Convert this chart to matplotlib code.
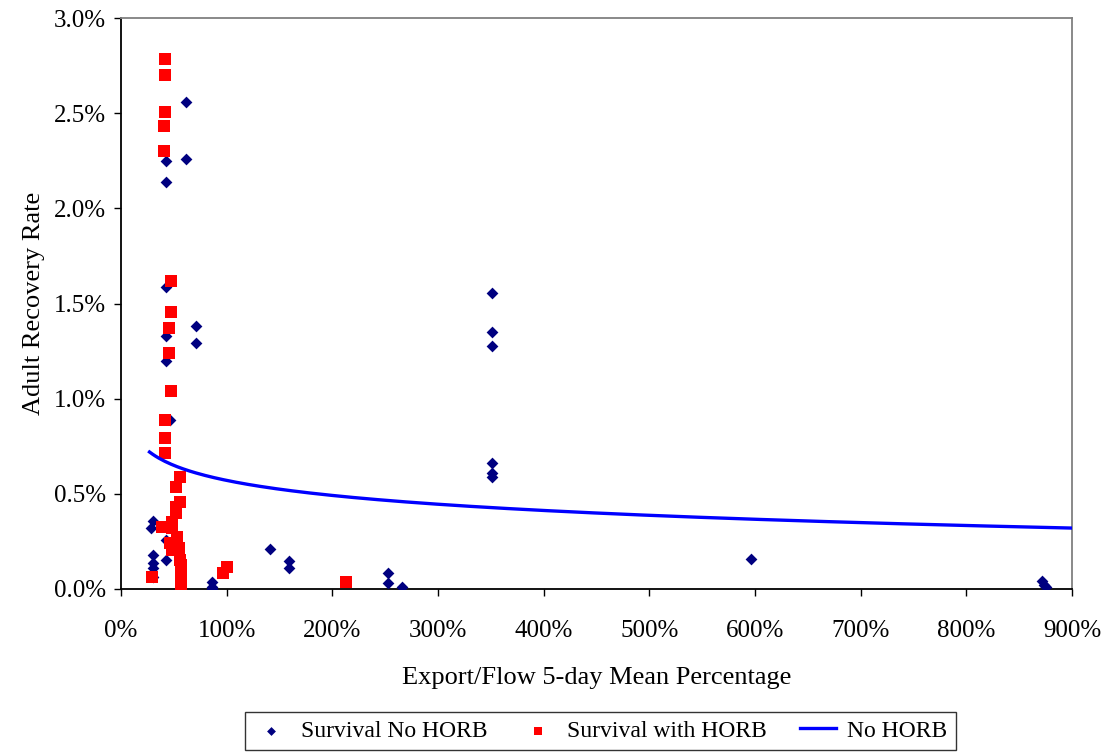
import numpy as np
import matplotlib
matplotlib.use("Agg")
import matplotlib.pyplot as plt
from matplotlib.ticker import PercentFormatter

# export/flow ratio (fraction) and adult recovery rate (fraction)
no_horb_x = [0.615, 0.426, 0.615, 0.426, 0.426, 0.426, 0.707, 0.707, 0.426, 0.46,
             0.30, 0.281, 0.423, 0.30, 0.423, 0.30, 0.30, 0.306,
             0.864, 0.864, 0.864, 1.41, 1.59, 1.59, 2.523, 2.523, 2.66,
             3.507, 3.507, 3.507, 3.507, 3.507, 3.507, 5.96, 8.72, 8.74, 8.75]
no_horb_y = [0.0256, 0.0225, 0.0226, 0.0214, 0.01587, 0.01331, 0.0138, 0.01291, 0.01197, 0.00887,
             0.00359, 0.00319, 0.00257, 0.00179, 0.00152, 0.00135, 0.00109, 0.00065,
             0.00038, 0.00012, 0.00002, 0.0021, 0.00149, 0.00109, 0.00082, 0.0003, 0.00009,
             0.01554, 0.01352, 0.01279, 0.00664, 0.00611, 0.0059, 0.00158, 0.0004, 0.0002, 0.0001]

horb_x = [0.416, 0.416, 0.416, 0.41, 0.41, 0.473, 0.473, 0.454, 0.454, 0.473,
          0.416, 0.416, 0.416, 0.558, 0.52, 0.558, 0.52, 0.52, 0.385, 0.48, 0.48,
          0.527, 0.464, 0.552, 0.48, 0.558, 0.568, 0.568, 0.296, 0.568, 0.568,
          0.968, 1.006, 2.129]
horb_y = [0.02785, 0.0270, 0.02507, 0.02433, 0.0230, 0.01618, 0.01456, 0.01373, 0.01242, 0.01042,
          0.00887, 0.00792, 0.00713, 0.0059, 0.00538, 0.00459, 0.00429, 0.00398, 0.00324, 0.00354, 0.00319,
          0.00272, 0.0024, 0.00214, 0.00205, 0.00152, 0.00126, 0.00091, 0.00061, 0.00047, 0.00005,
          0.00086, 0.00117, 0.00038]

# logarithmic trendline for No HORB: y = c0 + c1 * ln(x)
trend_c0 = 0.005705
trend_c1 = -0.00114
trend_start = 0.27
trend_end = 9.0

fig = plt.figure(figsize=(11.12, 7.52), dpi=100)
ax = fig.add_axes([0.1088, 0.2168, 0.8552, 0.7592])

plt.rcParams['font.family'] = ['Liberation Serif', 'DejaVu Serif']
font = 'Liberation Serif'

tx = np.linspace(trend_start, trend_end, 300)
ty = trend_c0 + trend_c1 * np.log(tx)

ax.scatter(no_horb_x, no_horb_y, marker='D', s=36, color='#000080',
           label='Survival No HORB', zorder=3, linewidths=0)
ax.scatter(horb_x, horb_y, marker='s', s=64, color='#ff0000',
           label='Survival with HORB', zorder=4, linewidths=0)
ax.plot(tx, ty, color='#0000ff', lw=2.4, label='No HORB', zorder=5)

ax.set_xlim(0, 9.0)
ax.set_ylim(0, 0.03)
ax.set_xticks(np.arange(0, 9.01, 1.0))
ax.set_yticks(np.arange(0, 0.0301, 0.005))
ax.xaxis.set_major_formatter(PercentFormatter(1.0, decimals=0))
ax.yaxis.set_major_formatter(PercentFormatter(1.0, decimals=1))

for lab in ax.get_xticklabels() + ax.get_yticklabels():
    lab.set_fontfamily(font)
    lab.set_fontsize(18)
ax.tick_params(direction='out', length=5, width=1)
ax.tick_params(axis='x', pad=17)
ax.tick_params(axis='y', pad=6)

ax.spines['left'].set_color('black')
ax.spines['bottom'].set_color('black')
ax.spines['top'].set_color('#808080')
ax.spines['right'].set_color('#808080')
for s in ax.spines.values():
    s.set_linewidth(1.3)

ax.set_xlabel('Export/Flow 5-day Mean Percentage', fontfamily=font, fontsize=19, labelpad=18)
ax.set_ylabel('Adult Recovery Rate', fontfamily=font, fontsize=19, labelpad=6)

leg = fig.legend(loc='center', bbox_to_anchor=(0.54, 0.028), ncol=3,
                 prop={'family': font, 'size': 17}, frameon=True, fancybox=False,
                 handlelength=1.5, handletextpad=0.5, columnspacing=1.4,
                 borderpad=0.35, markerscale=0.75)
leg.get_frame().set_edgecolor('black')
leg.get_frame().set_linewidth(1.0)

fig.savefig('out.png', dpi=100)
